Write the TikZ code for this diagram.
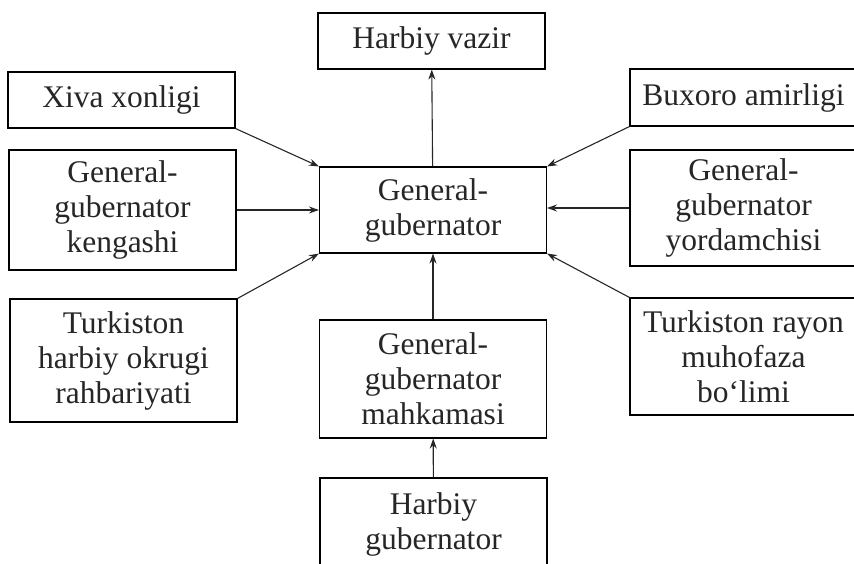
\documentclass[tikz,border=0pt]{standalone}
\usepackage{fontspec}
\setmainfont{Liberation Serif}
\usetikzlibrary{arrows.meta,positioning}

\begin{document}
\begin{tikzpicture}[
    x=1pt, y=-1pt,
    unit/.style={draw, rectangle, line width=1.1pt, minimum width=227pt, align=center, inner sep=0pt,
        font=\fontsize{31.5}{35}\selectfont, text=black!85},
    link/.style={-{Stealth[length=10pt,width=7pt]}, line width=1.1pt, black!85}
]
    \useasboundingbox (0,0) rectangle (854,564);

    % Centre and vertical chain
    \node[unit, minimum height=86pt] (GG) at (433,210) {General-\\gubernator};
    \node[unit, minimum height=56pt] (HV) at (431.5,41) {Harbiy vazir};
    \node[unit, minimum height=118pt] (MK) at (433,379) {General-\\gubernator\\mahkamasi};
    \node[unit, minimum height=92pt] (HG) at (433.5,524) {Harbiy\\gubernator};

    % Left column
    \node[unit, minimum height=56pt] (XX) at (121.5,100) {Xiva xonligi};
    \node[unit, minimum height=120pt] (GK) at (122.5,210) {General-\\gubernator\\kengashi};
    \node[unit, minimum height=123pt] (TH) at (123.5,360.5) {Turkiston\\harbiy okrugi\\rahbariyati};

    % Right column
    \node[unit, minimum height=57pt] (BA) at (743.5,97.5) {Buxoro amirligi};
    \node[unit, minimum height=116pt] (GY) at (743.5,208) {General-\\gubernator\\yordamchisi};
    \node[unit, minimum height=117pt] (TR) at (743.5,356.5) {Turkiston rayon\\muhofaza\\bo‘limi};

    % Connections
    \draw[link] (GG) -- (HV);
    \draw[link] (MK) -- (GG);
    \draw[link] (HG) -- (MK);
    \draw[link] (XX.south east) -- (GG.north west);
    \draw[link] (GK) -- (GG);
    \draw[link] (TH.north east) -- (GG.south west);
    \draw[link] (BA.south west) -- (GG.north east);
    \draw[link] (GY.west) -- (GY.west -| GG.east);
    \draw[link] (TR.north west) -- (GG.south east);
\end{tikzpicture}
\end{document}
